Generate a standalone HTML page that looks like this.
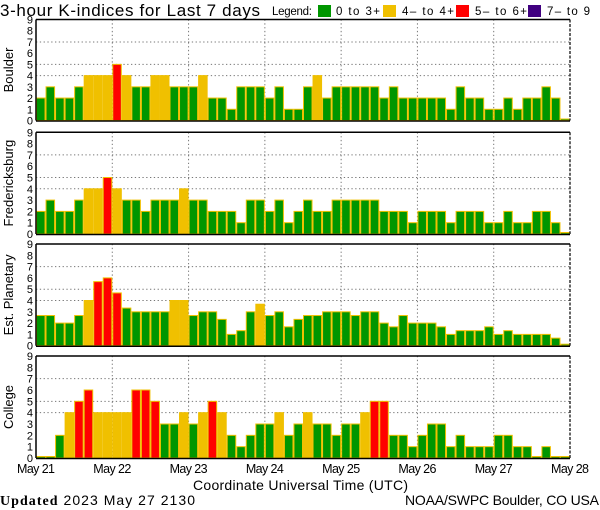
<!DOCTYPE html>
<html><head><meta charset="utf-8"><style>
body{margin:0;background:#fff;}
svg{display:block;font-family:"Liberation Sans",sans-serif;}
</style></head><body>
<svg id="chart" width="600" height="510" viewBox="0 0 600 510" xmlns="http://www.w3.org/2000/svg">
<text x="0" y="16" font-size="17" fill="#000" textLength="260" lengthAdjust="spacing">3-hour K-indices for Last 7 days</text>
<g font-size="11.5" fill="#000">
<text x="272" y="15" textLength="40">Legend:</text>
<rect x="318" y="5" width="13" height="12" fill="#009600"/><text x="336" y="15" textLength="44">0 to 3+</text>
<rect x="383" y="5" width="13" height="12" fill="#f0c000"/><text x="402" y="15" textLength="52">4– to 4+</text>
<rect x="456" y="5" width="13" height="12" fill="#ff0000"/><text x="475" y="15" textLength="52">5– to 6+</text>
<rect x="528" y="5" width="13" height="12" fill="#400080"/><text x="547" y="15" textLength="43">7– to 9</text>
</g>
<g id="panels"></g>
<text x="193" y="490" font-size="14" textLength="215">Coordinate Universal Time (UTC)</text>
<text x="0" y="505" font-size="14" textLength="195"><tspan font-family="Liberation Serif,serif" font-weight="bold">Updated</tspan> 2023 May 27 2130</text>
<text x="405" y="505" font-size="14" textLength="194">NOAA/SWPC Boulder, CO USA</text>
</svg>
<script>
const days = ["May 21","May 22","May 23","May 24","May 25","May 26","May 27","May 28"];
const yTicks = [0,1,2,3,4,5,6,7,8,9];
const stations = ["Boulder","Fredericksburg","Est. Planetary","College"];
const boulder = [2,3,2,2,3,4,4,4,5,4,3,3,4,4,3,3,3,4,2,2,1,3,3,3,2,3,1,1,3,4,2,3,3,3,3,3,2,3,2,2,2,2,2,1,3,2,2,1,1,2,1,2,2,3,2,0];
const fredericksburg = [2,3,2,2,3,4,4,5,4,3,3,2,3,3,3,4,3,3,2,2,2,1,3,3,2,3,1,2,3,2,2,3,3,3,3,3,2,2,2,1,2,2,2,1,2,2,2,1,1,2,1,1,2,2,1,0];
const planetary = [2.67,2.67,2,2,2.67,4,5.67,6,4.67,3.33,3,3,3,3,4,4,2.67,3,3,2.33,1,1.33,3,3.67,2.67,3,1.67,2.33,2.67,2.67,3,3,3,2.67,3,3,2,1.67,2.67,2,2,2,1.67,1,1.33,1.33,1.33,1.67,1,1.33,1,1,1,1,0.67,0];
const college = [0,0,2,4,5,6,4,4,4,4,6,6,5,3,3,4,3,4,5,4,2,1,2,3,3,4,2,3,4,3,3,2,3,3,4,5,5,2,2,1,2,3,3,1,2,1,1,1,2,2,1,1,0,1,0,0];
const series = [boulder, fredericksburg, planetary, college];
const panelTops = [19.5,132.3,244,356];
const panelBottoms = [120.5,234,345.7,458];
const X0 = 36, X1 = 570;
const NS = "http://www.w3.org/2000/svg";
const root = document.getElementById('panels');
function mk(tag, attrs, parent){const e=document.createElementNS(NS,tag);for(const k in attrs)e.setAttribute(k,attrs[k]);parent.appendChild(e);return e;}
const nBars = 56;
const xScale = i => X0 + (X1-X0)*i/nBars;
function color(v){return v>=6.5?"#400080":v>=4.5?"#ff0000":v>=3.5?"#f0c000":"#009600";}
series.forEach((vals, p) => {
  const top = panelTops[p], bot = panelBottoms[p];
  const yScale = v => bot - (bot-top)*v/9;
  const g = mk('g',{},root);
  
  
  [4,5,7].forEach(v=>{
    const l = mk('line',{x1:X0,x2:X1,y1:yScale(v),y2:yScale(v),stroke:"#777","stroke-width":1,"stroke-dasharray":"1.3,2.5"},g);
    
    
  });
  for(let d=1; d<7; d++){
    const x = xScale(d*8);
    const l = mk('line',{x1:x,x2:x,y1:top,y2:bot,stroke:"#777","stroke-width":1,"stroke-dasharray":"1.3,2.5"},g);
    
    
  }
  vals.forEach((v,i)=>{
    const x = xScale(i), w = xScale(i+1)-xScale(i);
    const h = Math.max(bot - yScale(v), 1.5);
    const r = mk('rect',{x:x+0.5,y:bot-h,width:w-1,height:h,fill:color(v),stroke:"#f0c000","stroke-width":1},g);
    
    
  });
  mk('line',{x1:X0,x2:X1,y1:top,y2:top,stroke:"#000","stroke-width":1.5},g);
  mk('line',{x1:X0,x2:X0,y1:top,y2:bot,stroke:"#000","stroke-width":1.5},g);
  mk('line',{x1:X0,x2:X1,y1:bot+0.5,y2:bot+0.5,stroke:"#000","stroke-width":1.5},g);
  mk('line',{x1:X1,x2:X1,y1:top,y2:bot,stroke:"#000","stroke-width":1.2,"stroke-dasharray":"3,1.5"},g);
  yTicks.forEach(v=>{
    const t = mk('text',{x:33,y:yScale(v)+4,"font-size":11,"text-anchor":"end"},g);
    
    
    t.textContent = v;
  });
  const cy = (top+bot)/2;
  const yt = mk('text',{x:0,y:0,"font-size":13,"text-anchor":"middle",transform:`translate(13,${cy}) rotate(-90)`},g);
  
  
  yt.textContent = stations[p];
});
days.forEach((d,i)=>{
  const t = mk('text',{x:xScale(i*8)-19,y:473,"font-size":12.5,textLength:38},root);
  
  
  t.textContent = d;
});
</script>
</body></html>
